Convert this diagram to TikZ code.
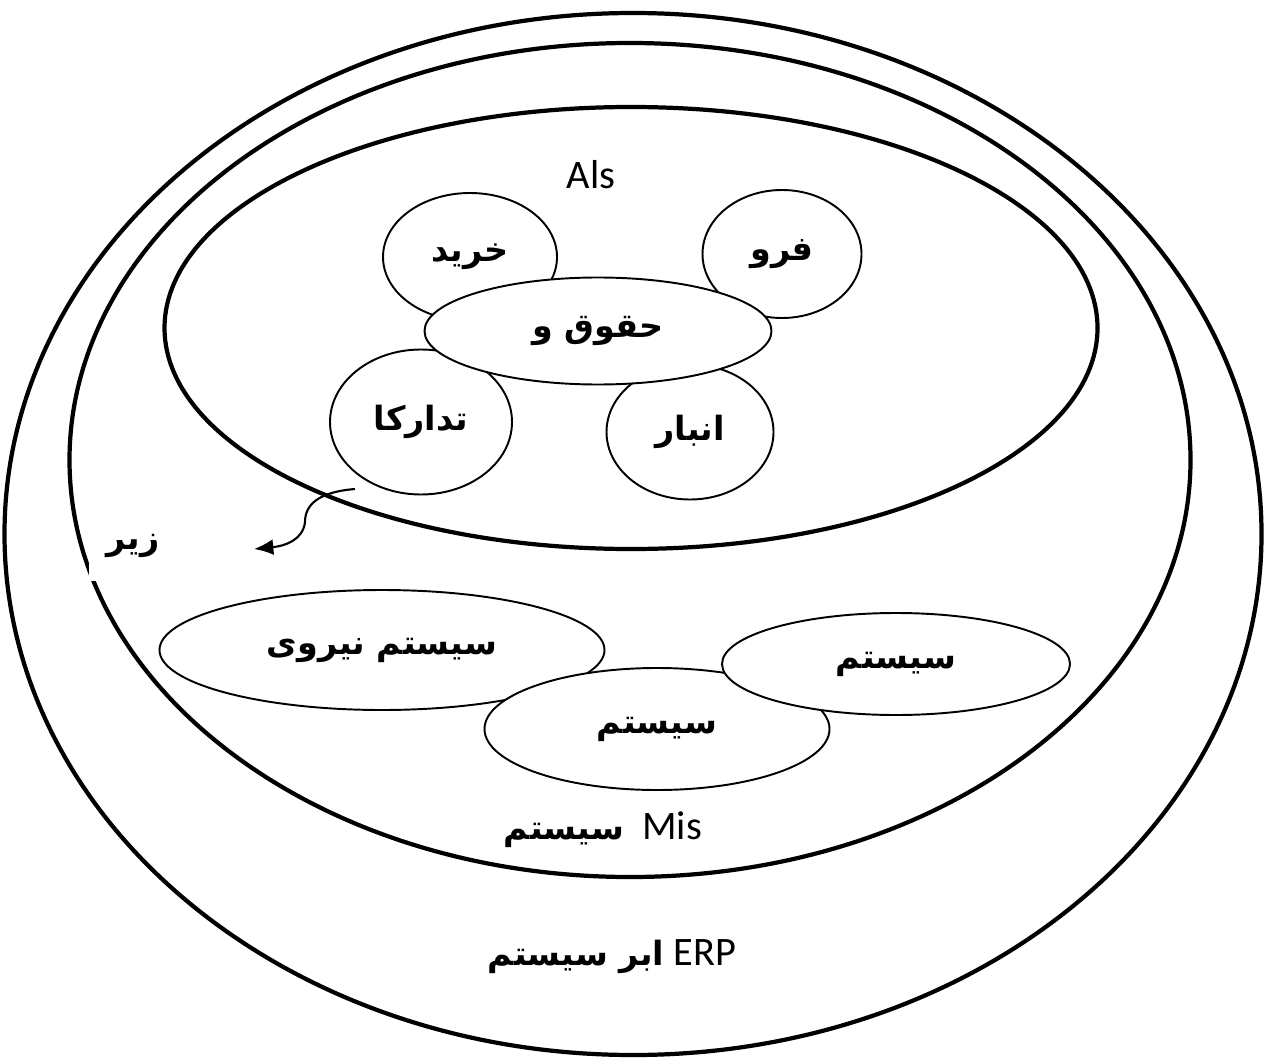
\documentclass[tikz,border=0pt]{standalone}
\usepackage{fontspec}
\setmainfont{Carlito}
\newfontfamily\farsi[Script=Arabic]{DejaVu Sans}
\TeXXeTstate=1
\usetikzlibrary{arrows.meta,shapes.geometric}

\newcommand{\fatext}[1]{{\farsi\bfseries\fontsize{19}{23}\selectfont\beginR #1\endR}}

\tikzset{
	big/.style 2 args={ellipse,draw,line width=2.4pt,inner sep=0pt,minimum width=#1*0.02cm,minimum height=#2*0.02cm},
	sub/.style 2 args={ellipse,draw,fill=white,line width=1.1pt,inner sep=0pt,minimum width=#1*0.02cm,minimum height=#2*0.02cm},
	lbl/.style={font=\fontsize{23}{28}\selectfont}
}

\begin{document}
\begin{tikzpicture}[x=0.02cm,y=-0.02cm]
				\useasboundingbox (0,0) rectangle (1266,1057);
				
				\node(erp) at (633,534)[big={1257}{1042}]{};
				\node(mis) at (630,460)[big={1121}{834}]{};
				\node(als) at (631,328)[big={933}{442}]{};
				
				\node(buy) at (470,257)[sub={174}{128}]{\fatext{خرید}};
				\node(sale) at (782,254)[sub={159}{128}]{\fatext{فرو}};
				\node(supply) at (421,422)[sub={182}{145}]{\fatext{تدارکا}};
				\node(store) at (690,432)[sub={167}{135}]{\fatext{انبار}};
				\node(pay) at (598,331)[sub={347}{107}]{\fatext{حقوق و}};
				
				\node(hr) at (382,650)[sub={445}{120}]{\fatext{سیستم نیروی}};
				\node(sysb) at (657,729)[sub={345}{122}]{\fatext{سیستم}};
				\node(sysa) at (896,664)[sub={348}{102}]{\fatext{سیستم}};
				
				\node(alstext) at (591,175)[lbl]{Als};
				\node(mistext) at (603,830)[lbl]{\fatext{سیستم}\ \ Mis};
				\node(erptext) at (612,957)[lbl]{\fatext{ابر سیستم} ERP};
				\node(sub) at (133,546)[lbl,fill=white,minimum width=1.76cm,minimum height=1.4cm]{\fatext{زیر}};
				
				\coordinate(from) at (355,489);
				\coordinate(to) at (254,549);
				\draw[-{Latex[length=11pt,width=9pt]}, line width=1.2pt] (from) .. controls (318,492) and (305,505) .. (305,522) .. controls (303,540) and (285,546) .. (to);
				
			\end{tikzpicture}
\end{document}
